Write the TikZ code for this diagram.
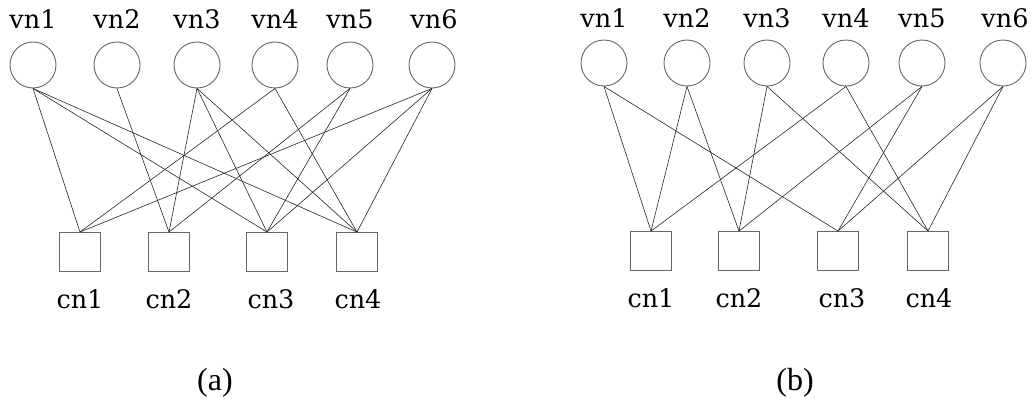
\documentclass[tikz,border=0pt]{standalone}
\usepackage{fontspec}
\setmainfont{DejaVu Serif}
\newfontfamily\capfont{Liberation Serif}
\usetikzlibrary{positioning}
\tikzset{
  vnode/.style={draw=black!60,line width=0.9pt,shape=circle,minimum size=46pt,inner sep=0pt},
  cnode/.style={draw=black!60,line width=0.9pt,shape=rectangle,minimum width=41pt,minimum height=39pt,inner sep=0pt},
  lbl/.style={anchor=base,inner sep=0pt,font=\fontsize{25.5}{30}\selectfont},
  edge/.style={black!85,line width=0.6pt}
}
\begin{document}
\begin{tikzpicture}[x=1pt,y=-1pt]
\useasboundingbox (0,0) rectangle (1034,399);
% (a)
\draw node foreach \i/\x in {1/33,2/117,3/197,4/275,5/350,6/432} (va\i) at (\x,65) [vnode]{};
\draw node foreach \i/\x in {1/33,2/117,3/197,4/275,5/350,6/434} (lva\i) at (\x,28) [lbl]{vn\i};
\draw node foreach \i/\x in {1/80,2/169,3/267,4/357} (ca\i) at (\x,252) [cnode]{};
\draw node foreach \i/\x in {1/80,2/169,3/271,4/358} (lca\i) at (\x,308) [lbl]{cn\i};
\foreach \v/\c in {1/1,1/3,1/4,2/2,3/2,3/3,3/4,4/1,4/4,5/2,5/3,6/1,6/3,6/4}
  \draw[edge] (va\v.south) -- (ca\c.north);
\draw node (capa) at (215,390) [anchor=base,inner sep=0pt,font=\capfont\fontsize{32}{36}\selectfont]{(a)};
% (b)
\draw node foreach \i/\x in {1/604,2/687,3/767,4/846,5/922,6/1003} (vb\i) at (\x,63) [vnode]{};
\draw node foreach \i/\x in {1/604,2/687,3/767,4/846,5/922,6/1005} (lvb\i) at (\x,27) [lbl]{vn\i};
\draw node foreach \i/\x in {1/651,2/739,3/838,4/928} (cb\i) at (\x,251) [cnode]{};
\draw node foreach \i/\x in {1/651,2/739,3/842,4/929} (lcb\i) at (\x,307) [lbl]{cn\i};
\foreach \v/\c in {1/1,1/3,2/1,2/2,3/2,3/4,4/1,4/4,5/2,5/3,6/3,6/4}
  \draw[edge] (vb\v.south) -- (cb\c.north);
\draw node (capb) at (795,390) [anchor=base,inner sep=0pt,font=\capfont\fontsize{32}{36}\selectfont]{(b)};
\end{tikzpicture}
\end{document}
